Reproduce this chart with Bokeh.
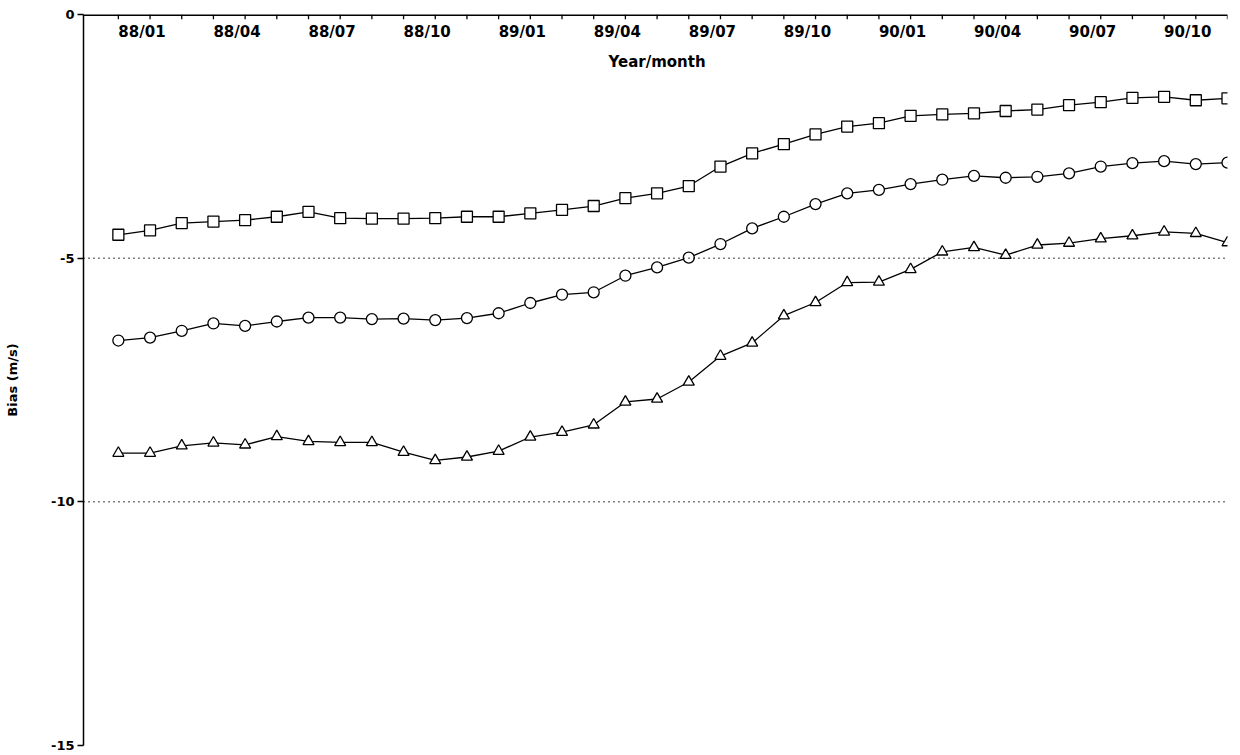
from bokeh.plotting import figure
from bokeh.models import Range1d, LinearAxis, FixedTicker, Span, Label
from bokeh.core.properties import value
from bokeh.embed import file_html
from bokeh.resources import INLINE

# ---- data ----
months = ["88/01", "88/02", "88/03", "88/04", "88/05", "88/06", "88/07", "88/08", "88/09",
          "88/10", "88/11", "88/12", "89/01", "89/02", "89/03", "89/04", "89/05", "89/06",
          "89/07", "89/08", "89/09", "89/10", "89/11", "89/12", "90/01", "90/02", "90/03",
          "90/04", "90/05", "90/06", "90/07", "90/08", "90/09", "90/10", "90/11", "90/12"]
tick_labels = ["88/01", "88/04", "88/07", "88/10", "89/01", "89/04",
               "89/07", "89/10", "90/01", "90/04", "90/07", "90/10"]

squares = [-4.52, -4.43, -4.28, -4.25, -4.22, -4.15, -4.05, -4.18, -4.19, -4.19, -4.18, -4.15,
           -4.15, -4.08, -4.01, -3.93, -3.77, -3.67, -3.52, -3.12, -2.85, -2.66, -2.46, -2.30,
           -2.23, -2.08, -2.05, -2.03, -1.98, -1.95, -1.86, -1.80, -1.71, -1.69, -1.76, -1.72]
circles = [-6.69, -6.63, -6.49, -6.34, -6.39, -6.30, -6.22, -6.22, -6.25, -6.24, -6.27, -6.23,
           -6.13, -5.92, -5.75, -5.70, -5.36, -5.19, -4.99, -4.71, -4.39, -4.15, -3.89, -3.67,
           -3.60, -3.48, -3.39, -3.31, -3.35, -3.33, -3.26, -3.12, -3.05, -3.01, -3.07, -3.04]
triangles = [-9.00, -9.00, -8.85, -8.79, -8.83, -8.66, -8.76, -8.78, -8.78, -8.98, -9.15, -9.08,
             -8.96, -8.67, -8.57, -8.42, -7.95, -7.89, -7.54, -7.01, -6.74, -6.18, -5.91, -5.50,
             -5.49, -5.23, -4.87, -4.78, -4.94, -4.73, -4.69, -4.60, -4.54, -4.46, -4.49, -4.68]
y_ticks = [0, -5, -10, -15]
ref_levels = [-5, -10]

xpos = list(range(len(months)))
label_pos = [months.index(t) for t in tick_labels]

FONT = "DejaVu Sans"
Y_TOP = 0
TICK_LEN = 0.1  # inward tick length of the top axis, in y units (~5 px)

p = figure(width=1240, height=755,
           x_range=Range1d(-1.1, len(months) - 1), y_range=Range1d(-15, Y_TOP),
           x_axis_location=None, y_axis_location=None,
           toolbar_location=None, output_backend="svg",
           min_border_left=83, min_border_right=13, min_border_top=14, min_border_bottom=10,
           outline_line_color=None, background_fill_color="white", border_fill_color="white")
p.xgrid.visible = False
p.ygrid.visible = False

# left axis
yaxis = LinearAxis(ticker=FixedTicker(ticks=y_ticks),
                   major_label_overrides={t: str(t) for t in y_ticks},
                   axis_label="Bias (m/s)",
                   major_tick_out=6, major_tick_in=0, minor_tick_out=0, minor_tick_in=0,
                   major_label_standoff=3, axis_label_standoff=28,
                   axis_line_width=1.5, major_tick_line_width=1.5,
                   major_label_text_font=FONT, major_label_text_font_style="bold",
                   major_label_text_font_size="13px", major_label_text_color="black",
                   axis_label_text_font=FONT, axis_label_text_font_style="bold",
                   axis_label_text_font_size="13px", axis_label_text_color="black")
p.add_layout(yaxis, "left")

# top axis line with monthly ticks pointing inward
p.add_layout(Span(location=Y_TOP, dimension="width", line_color="black", line_width=3))
p.segment(x0=xpos, y0=[Y_TOP] * len(xpos), x1=xpos, y1=[Y_TOP - TICK_LEN] * len(xpos),
          line_color="black", line_width=1.3)

for lv in ref_levels:
    p.add_layout(Span(location=lv, dimension="width", line_color="black",
                      line_width=1.5, line_dash="1 4"))

# month labels inside the frame, left aligned at their tick
p.text(x=label_pos, y=[-0.36] * len(label_pos), text=tick_labels,
       text_align="left", text_baseline="middle",
       text_font=value(FONT), text_font_style="bold", text_font_size="15px",
       text_color="black")
p.add_layout(Label(x=17.0, y=-0.97, text="Year/month", text_align="center",
                   text_baseline="middle", text_font=FONT, text_font_style="bold",
                   text_font_size="15px", text_color="black"))

for series, marker in ((squares, "square"), (circles, "circle"), (triangles, "triangle")):
    p.line(xpos, series, line_color="black", line_width=1.3)
    p.scatter(xpos, series, marker=marker, size=11, fill_color="white",
              line_color="black", line_width=1.3)

open("out.html", "w").write(file_html(p, INLINE))
